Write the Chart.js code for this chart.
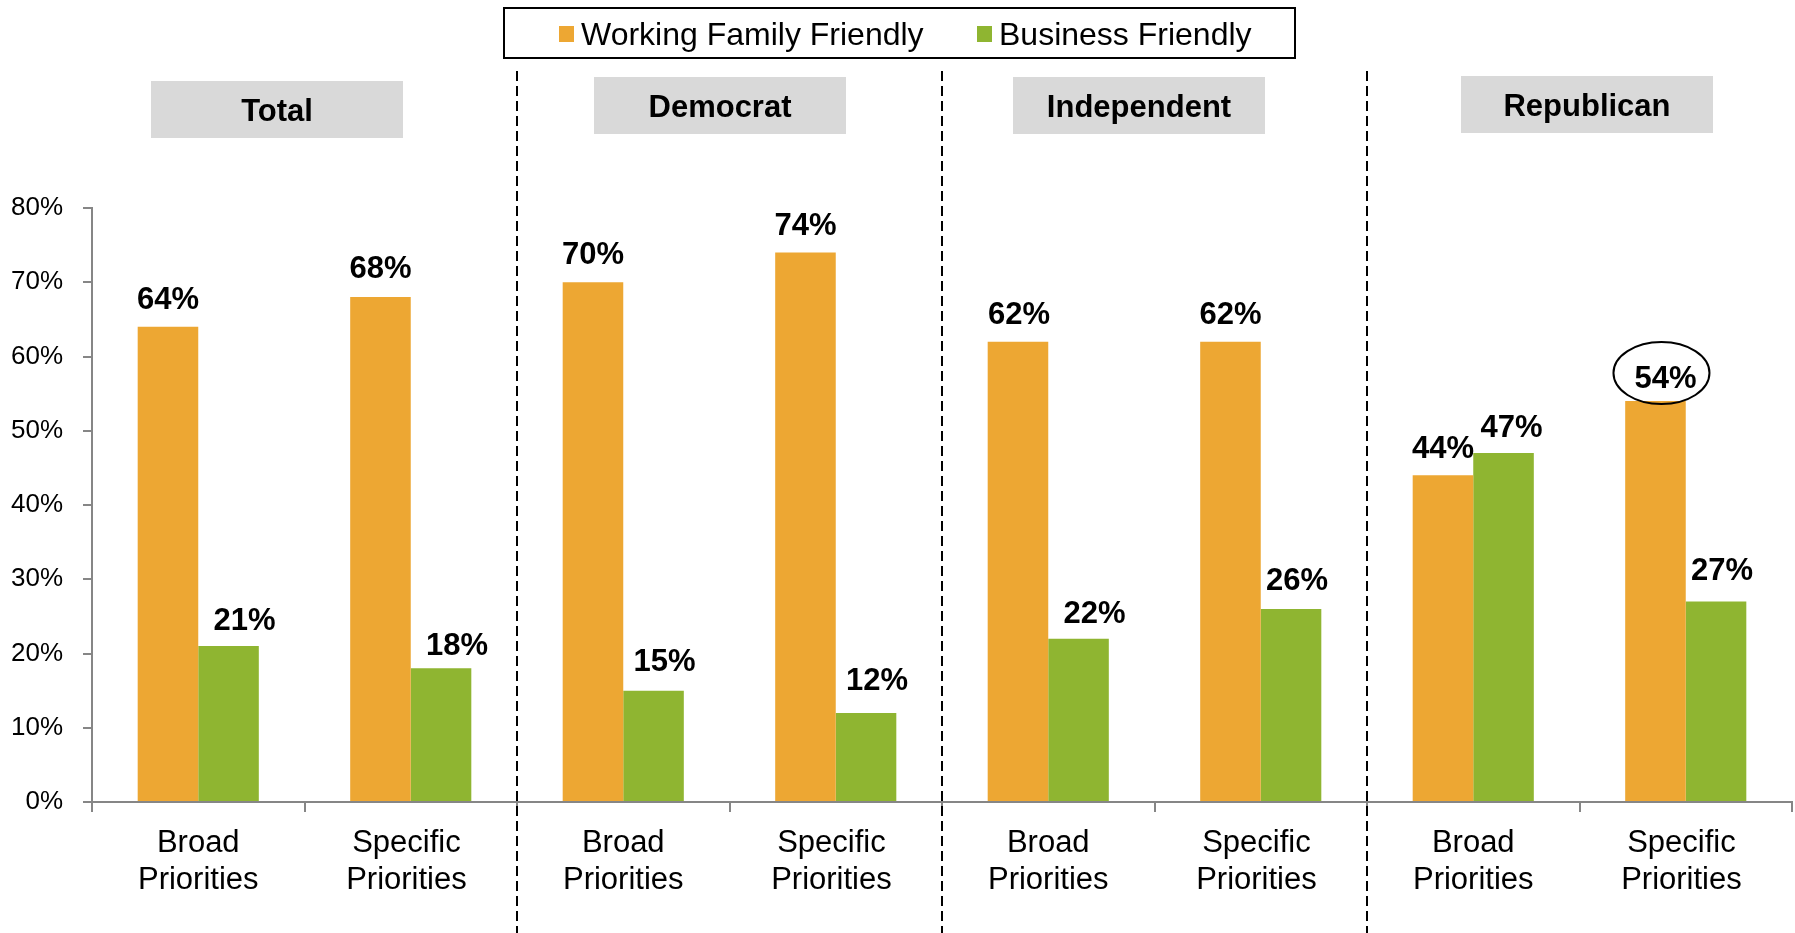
<!DOCTYPE html>
<html>
<head>
<meta charset="utf-8">
<script src="https://cdn.jsdelivr.net/npm/chart.js@4"></script>
<style>
  html, body { margin: 0; padding: 0; background: #fff; }
  #chart { display: block; }
</style>
</head>
<body>
<canvas id="chart" width="1795" height="933"></canvas>
<script>
const groups = ['Total', 'Democrat', 'Independent', 'Republican'];
const priorityTypes = [['Broad', 'Priorities'], ['Specific ', 'Priorities ']];
const seriesNames = ['Working Family Friendly', 'Business Friendly'];
const workingFamily = [64, 68, 70, 74, 62, 62, 44, 54];
const business = [21, 18, 15, 12, 22, 26, 47, 27];
const yTickMax = 80;
const yTickStep = 10;
const circledPoint = { dataset: 0, index: 7 };

const categories = [];
groups.forEach(() => priorityTypes.forEach(p => categories.push(p)));

const FONT = "'Liberation Sans', Arial, sans-serif";
const orange = '#EDA733';
const green = '#8FB531';
const axisGray = '#868686';

// hand placement of the value labels in the original: [dx, baseline gap above bar]
const labelNudge = [
  [[0, 18], [0, 19], [0, 18], [0, 18], [1, 18], [0, 18], [0, 17], [10, 13]],
  [[16, 16], [16, 13], [11, 20], [11, 23], [16, 16], [6, 19], [8, 16], [6, 22]],
];

const headerBoxes = [
  { cx: 277, y: 81 },
  { cx: 720, y: 77 },
  { cx: 1139, y: 77 },
  { cx: 1587, y: 76 },
];

const overlay = {
  id: 'overlay',
  afterDatasetsDraw(chart) {
    const ctx = chart.ctx;
    ctx.save();
    ctx.fillStyle = '#000';
    ctx.font = 'bold 31px ' + FONT;
    ctx.textAlign = 'center';
    ctx.textBaseline = 'alphabetic';
    chart.data.datasets.forEach((ds, di) => {
      chart.getDatasetMeta(di).data.forEach((bar, i) => {
        const [dx, gap] = labelNudge[di][i];
        ctx.fillText(ds.data[i] + '%', bar.x + dx, bar.y - gap);
      });
    });
    ctx.restore();
  },
  afterDraw(chart) {
    const ctx = chart.ctx;
    const xs = chart.scales.x;
    ctx.save();

    // dashed group separators
    ctx.strokeStyle = '#000';
    ctx.lineWidth = 2;
    ctx.setLineDash([10, 5]);
    for (let g = 1; g < groups.length; g++) {
      const x = Math.round((xs.getPixelForValue(g * 2 - 1) + xs.getPixelForValue(g * 2)) / 2);
      ctx.beginPath();
      ctx.moveTo(x, 71);
      ctx.lineTo(x, chart.height);
      ctx.stroke();
    }
    ctx.setLineDash([]);

    // group header boxes
    ctx.font = 'bold 31px ' + FONT;
    ctx.textAlign = 'center';
    ctx.textBaseline = 'middle';
    groups.forEach((name, g) => {
      const b = headerBoxes[g];
      ctx.fillStyle = '#D9D9D9';
      ctx.fillRect(b.cx - 126, b.y, 252, 57);
      ctx.fillStyle = '#000';
      ctx.fillText(name, b.cx, b.y + 31);
    });

    // legend
    ctx.strokeStyle = '#000';
    ctx.lineWidth = 2;
    ctx.strokeRect(504, 8, 791, 50);
    ctx.font = '32px ' + FONT;
    ctx.textAlign = 'left';
    const legendX = [559, 977];
    chart.data.datasets.forEach((ds, di) => {
      ctx.fillStyle = ds.backgroundColor;
      ctx.fillRect(legendX[di], 26, 15, 16);
      ctx.fillStyle = '#000';
      ctx.fillText(ds.label, legendX[di] + 22, 36);
    });

    // ellipse around the highlighted value
    const bar = chart.getDatasetMeta(circledPoint.dataset).data[circledPoint.index];
    ctx.beginPath();
    ctx.ellipse(bar.x + 6, bar.y - 28, 48, 31, 0, 0, Math.PI * 2);
    ctx.lineWidth = 2;
    ctx.stroke();

    ctx.restore();
  }
};

new Chart(document.getElementById('chart'), {
  type: 'bar',
  data: {
    labels: categories,
    datasets: [
      { label: seriesNames[0], data: workingFamily, backgroundColor: orange },
      { label: seriesNames[1], data: business, backgroundColor: green },
    ],
  },
  options: {
    responsive: false,
    animation: false,
    devicePixelRatio: 1,
    categoryPercentage: 0.57,
    barPercentage: 1.0,
    layout: { padding: { top: 208, right: 3, left: 0, bottom: 0 } },
    plugins: {
      legend: { display: false },
      tooltip: { enabled: false },
    },
    scales: {
      x: {
        offset: true,
        afterFit(scale) { scale.height = 131; },
        grid: {
          offset: true,
          drawOnChartArea: false,
          tickLength: 10,
          color: axisGray,
          lineWidth: 2,
        },
        border: { color: axisGray, width: 2 },
        ticks: {
          color: '#000',
          padding: 13,
          maxRotation: 0,
          autoSkip: false,
          font: { family: FONT, size: 31, lineHeight: 1.2 },
        },
      },
      y: {
        min: 0,
        max: yTickMax,
        afterFit(scale) { scale.width = 92; },
        grid: {
          drawOnChartArea: false,
          tickLength: 9,
          color: axisGray,
          lineWidth: 2,
        },
        border: { color: axisGray, width: 2 },
        ticks: {
          stepSize: yTickStep,
          color: '#000',
          padding: 20,
          font: { family: FONT, size: 26 },
          callback: v => v + '%',
        },
      },
    },
  },
  plugins: [overlay],
});
</script>
</body>
</html>
